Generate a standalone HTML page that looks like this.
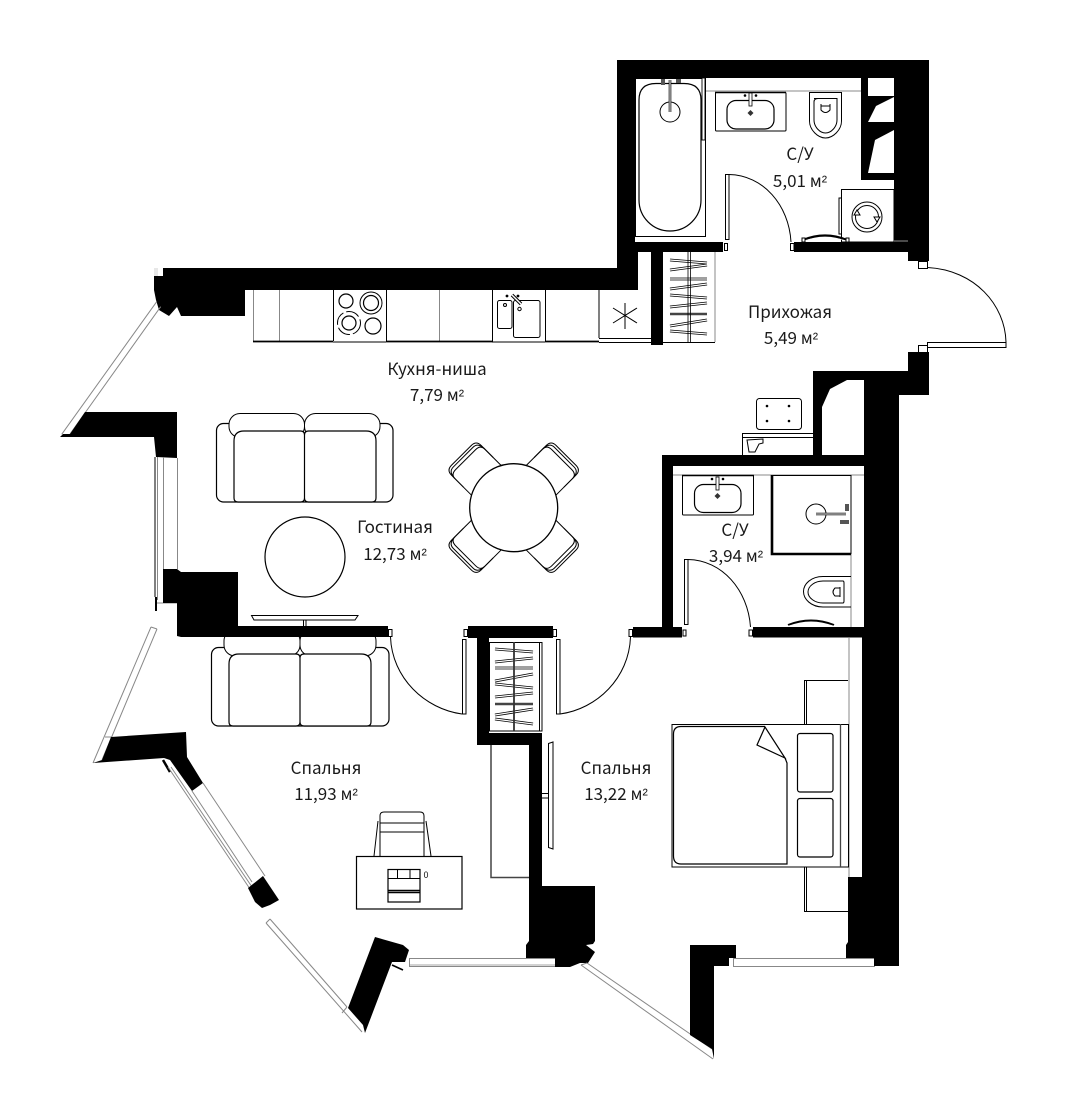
<!DOCTYPE html>
<html lang="ru">
<head>
<meta charset="utf-8">
<title>План квартиры</title>
<style>
html,body{margin:0;padding:0;background:#fff;width:1068px;height:1120px;overflow:hidden}
svg{display:block}
text{font-family:"Noto Sans CJK JP","Liberation Sans",sans-serif;font-size:17px;fill:#1a1a1a;text-anchor:middle}
text tspan{font-family:"Liberation Sans",sans-serif;font-size:16px}
.w{fill:#000;stroke:none}
.l{fill:none;stroke:#000;stroke-width:1}
.m{fill:none;stroke:#000;stroke-width:1.2}
.f{fill:#fff;stroke:#000;stroke-width:1}
.g{fill:none;stroke:#888;stroke-width:1}
.h{stroke:#000;stroke-width:2.8;fill:none}
.hi{stroke:#fff;stroke-width:1.2;fill:none}
</style>
</head>
<body>
<svg width="1068" height="1120" viewBox="0 0 1068 1120" xmlns="http://www.w3.org/2000/svg">
<rect width="1068" height="1120" fill="#fff"/>

<!-- kitchen counter -->
<g>
<path class="g" d="M253.500 290V341M279.500 290V341M439.500 290V341"/>
<path class="l" d="M333.500 290V341M386.500 290V341M492.500 290V342M545.500 290V342M599 290V338"/>
<path d="M253 341.500H333M386 341.500H492M545 341.500H599" stroke="#000" stroke-width="1.800" fill="none"/>
<path class="l" d="M333 342H386M492 342H545"/>
<path class="l" d="M599 338.500H651M599 342.500H651"/>
<circle class="m" cx="346" cy="301" r="7"/>
<circle class="l" cx="371" cy="303" r="11"/><circle class="m" cx="371" cy="303" r="7.500"/>
<circle class="l" cx="349" cy="323" r="11.500" stroke-dasharray="14 3"/><circle class="m" cx="349" cy="323" r="7"/>
<circle class="m" cx="373" cy="326" r="8"/>
<rect class="l" x="497.500" y="300.500" width="14.500" height="28" rx="2"/>
<rect class="l" x="513.500" y="300.500" width="26.500" height="37" rx="2"/>
<path d="M512 295L521 304" stroke="#000" stroke-width="3.400"/><path d="M512 295L521 304" stroke="#fff" stroke-width="1.400"/>
<circle cx="507" cy="296" r="1.400"/><circle cx="518" cy="296" r="1.400"/>
<circle class="l" cx="505" cy="305" r="1.500"/><circle class="l" cx="519.500" cy="309" r="1.700"/>
<path class="l" d="M625 303V329M613 308L637 323M613 323L637 308"/>
</g>

<!-- thin guide lines under the walls -->
<path class="g" d="M706 91H861"/>
<path class="g" d="M673 475H864M851 475V627M849 638V877"/>

<!-- walls: upper block -->
<g class="w">
<path d="M617 60H929V261H908V252H794V242H894V78H635V242H723V252H635V288H638V268H617z" fill-rule="nonzero"/>
<rect x="635" y="242" width="3" height="46"/>
<rect x="244" y="268" width="394" height="22"/>
<rect x="651" y="252" width="12" height="93"/>
<rect x="861" y="78" width="33" height="102"/>
<rect x="617" y="60" width="18" height="208"/>
</g>
<g fill="#fff">
<rect x="868" y="78" width="26" height="18"/>
<path d="M868 122L876 106L894 97V122z"/>
<path d="M868 173L875 140L894 130V173z"/>
<rect x="638" y="252" width="13" height="36"/>
</g>
<path d="M243.500 268V288" stroke="#ccc" stroke-width="0.800"/>

<!-- top-left corner -->
<path class="w" d="M154 276H163V268H245V316H181L177 307L169 316L159 310L156 300L154 290z"/>
<path d="M155 268V276M157 268V276" stroke="#bbb" stroke-width="0.700"/>
<path class="g" d="M156.700 301.700L61.700 434.300M160.700 306.700L70 434" stroke-width="0.900"/>
<path class="w" d="M85 412H177V458L156 457L154 437H60L63 434H70z"/>

<!-- west window -->
<path class="g" d="M163.500 457V569M177.500 458V569M157.500 457V600" stroke-width="0.900"/>
<path class="l" d="M155 457V597"/>
<rect x="155" y="597" width="2" height="14" fill="#000"/>
<path class="g" d="M157 603H177"/>

<!-- sofa 2 (behind wall) -->
<g>
<rect class="m" x="211.500" y="647.500" width="177.500" height="78.500" rx="7"/>
<rect class="f" stroke-width="1.100" x="224" y="630" width="76" height="26" rx="11"/>
<rect class="f" stroke-width="1.100" x="300" y="630" width="76" height="26" rx="11"/>
<path class="m" style="fill:#fff" d="M229 722V664Q229 654 239 654H296Q300 654 300 658V722Q300 726 296 726H233Q229 726 229 722zM300 722V658Q300 654 304 654H361Q371 654 371 664V722Q371 726 367 726H304Q300 726 300 722z"/>
</g>

<path class="w" d="M163 569H177L181 572H238V626H388V637H181L177 636V603H163z"/>

<!-- SW window 1 -->
<path class="g" d="M151 627L93 763M157 629L102 760M151 627L157 629M105 737L112 737" stroke-width="0.800"/>
<path class="w" d="M111 737L186 732L187 757L203 783L192 791L170 760L164 758L93 763L102 760z"/>
<path d="M163 760L170 772" stroke="#000" stroke-width="2.500"/>
<!-- SW window 2 -->
<path class="g" d="M168 767L250 889M171 767L252 887M192 791L252 882M203 783L265 876" stroke-width="0.900"/>
<path class="w" d="M263 876L279 900L270 905L262 908L255 902L248 888z"/>
<!-- SW window 3 -->
<path class="g" d="M266 923L362 1032M270 919L347 1007M266 923L270 919M347 1007L342 1013" stroke-width="0.900"/>
<path class="w" d="M375 937L403 945L409 950L405 962L392 962L365 1033L363 1025L348 1008z"/>
<path d="M392 965L403 970" stroke="#000" stroke-width="1.600"/>
<!-- south window 1 -->
<rect x="409.500" y="958.500" width="146" height="8" class="g" stroke-width="0.900"/>
<path d="M409 965H555" stroke="#888" stroke-width="0.800"/>
<!-- central block -->
<path class="w" d="M468 626H553V638H489V733H542V886H595V941L593 944L586 945L595 952L588 963L580 963L570 967H555V958H526V945L529 941V745H477V638H468z"/>
<path class="g" d="M587 963L712 1049M581 965L713 1059M581 965L587 963" stroke-width="0.900"/>
<path class="w" d="M690 945H736V958H729V966H714V1059L712 1049L690 1035z"/>
<rect x="733.500" y="958.500" width="141" height="8" class="g" stroke-width="0.900"/>

<!-- WC walls & shaft -->
<g class="w">
<rect x="662" y="455" width="202" height="11"/>
<rect x="662" y="455" width="11" height="182"/>
<rect x="633" y="627" width="49" height="10.500"/>
<rect x="753" y="627" width="111" height="10.500"/>
<path d="M908 352H929V395H899V966H874V958H846V945L848 942V877H862V637H864V380H847L830 389L822 407V460H813V371H908z"/>
</g>

<!-- entrance door -->
<path class="l" d="M927.500 267.500C975 270 1005 305 1006 342"/>
<rect class="f" x="927.500" y="342.500" width="78.500" height="5"/>
<rect class="f" x="918.500" y="261.500" width="9" height="7"/>
<rect class="f" x="918.500" y="345.500" width="9" height="7"/>

<!-- upper bathroom -->
<rect class="l" x="635.500" y="78.500" width="70" height="158"/>
<path class="m" d="M639 100Q639 83.500 656 83.500H684Q701 83.500 701 100V200A31 31 0 0 1 639 200z"/>
<circle class="l" cx="670" cy="112" r="10"/>
<path d="M670 80V112" stroke="#000" stroke-width="2.600"/><path d="M670 80V112" stroke="#fff" stroke-width="1"/>
<rect x="661" y="79" width="4" height="6" fill="#555"/><rect x="676" y="79" width="5" height="4" fill="#555"/>
<rect x="702" y="78" width="3" height="62" fill="#fff" stroke="#000" stroke-width="0.900"/>
<rect class="f" x="715.500" y="92.500" width="70.500" height="38.500" rx="1"/>
<path d="M715 92.500H786" stroke="#000" stroke-width="1.500"/>
<rect class="m" x="727" y="100.500" width="47" height="28.500" rx="9"/>
<rect x="749" y="93" width="3" height="13" fill="#fff" stroke="#000" stroke-width="0.800"/>
<circle cx="745" cy="95.500" r="1.300"/><circle cx="756" cy="95.500" r="1.300"/>
<path d="M750.500 110l3 3-3 3-3-3z" fill="#333"/>
<path class="l" d="M809.500 92.500H841.500V121C841.500 130 833 138 825.500 138C818 138 809.500 130 809.500 121z"/>
<path class="l" d="M814 98.500H837V120C837 127 831 133 825.500 133C820 133 814 127 814 120V102Q814 98.500 818 98.500z"/>
<path class="l" d="M821 104V110Q825.500 115 830 110V104M821 106H830"/>
<path class="f" d="M841.500 189.500H894V242H841.500z"/>
<rect class="f" x="839" y="198" width="2.500" height="36"/>
<circle class="l" cx="867" cy="217" r="15"/>
<circle class="l" cx="867" cy="217" r="11.500"/>
<path class="f" d="M854 215l3-5 3 5zM874 217l3 5 3-5z"/>
<rect class="f" x="725.500" y="174.500" width="3.500" height="65"/>
<path class="l" d="M729 174.500C763 175 789 205 791 242"/>
<rect class="f" x="724.500" y="243.500" width="3" height="7"/>
<rect class="f" x="790.500" y="243.500" width="3.500" height="7"/>
<path d="M803 240Q825 231 847 240" fill="none" stroke="#000" stroke-width="2.200"/>
<path d="M803 241Q825 234 847 241" fill="none" stroke="#fff" stroke-width="0.600"/>
<rect class="f" x="802" y="238" width="3" height="4"/><rect class="f" x="846" y="238" width="3" height="4"/>
<path d="M894 241H908" stroke="#bbb" stroke-width="0.800"/>

<!-- closet 1 -->
<path class="g" d="M715 252V342" stroke-width="1.500"/>
<path class="l" d="M663 342.500H715"/>
<g class="h"><path d="M670 260L707 263M670 270L707 265M670 279H707M670 289L707 284M670 295L707 298M670 307L707 303M670 326L707 320M670 331L707 334"/></g>
<g class="hi"><path d="M670 260L707 263M670 270L707 265M670 279H707M670 289L707 284M670 295L707 298M670 307L707 303M670 326L707 320M670 331L707 334"/></g>
<path d="M670 314H707" stroke="#444" stroke-width="2.600"/>
<path d="M688 252V342M690.500 252V342" stroke="#000" stroke-width="0.800"/>

<!-- furniture pad & kitchen cabinet -->
<rect class="l" x="756.500" y="398.500" width="45" height="31" rx="3"/>
<circle cx="767" cy="406" r="1.300"/><circle cx="789" cy="406" r="1.300"/><circle cx="767" cy="421" r="1.300"/><circle cx="789" cy="421" r="1.300"/>
<path class="l" d="M742.500 455V433.500H813M742.500 437.500H813"/>
<path class="l" d="M747 440L763 439L763 443L759 444L755 452L749 452z"/>

<!-- lower WC -->
<rect class="f" x="682.500" y="475.500" width="71" height="39.500" rx="1"/>
<path d="M682 475.500H754" stroke="#000" stroke-width="1.500"/>
<rect class="m" x="694.500" y="484.500" width="46.500" height="28" rx="9"/>
<rect x="716" y="477" width="3" height="13" fill="#fff" stroke="#000" stroke-width="0.800"/>
<circle cx="712" cy="479" r="1.300"/><circle cx="723" cy="479" r="1.300"/>
<path d="M717.500 493l3 3-3 3-3-3z" fill="#333"/>
<rect x="772" y="475.500" width="79" height="78" fill="#fff" stroke="#000" stroke-width="1"/>
<path d="M772 475V554H851" fill="none" stroke="#000" stroke-width="2.600"/>
<circle class="l" cx="816" cy="514" r="10"/>
<path d="M816 514H846" stroke="#000" stroke-width="2.600"/><path d="M816 514H846" stroke="#fff" stroke-width="1"/>
<rect x="845" y="504" width="4" height="7" fill="#555"/><rect x="840" y="520" width="9" height="4" fill="#555"/>
<path class="l" d="M851 576.500H823C811 576.500 803.500 584 803.500 591.500C803.500 599 811 607 823 607H851"/>
<path class="l" d="M843 581H823C815 581 808 586 808 592C808 598 815 603 823 603H843Q844 603 844 601V583Q844 581 843 581z"/>
<path class="l" d="M840 587V597M840 588H835Q831 592 835 596H840"/>
<rect class="f" x="684.500" y="559.500" width="3.500" height="65"/>
<path class="l" d="M688 559.500C722 560 748 590 750.500 627"/>
<rect class="f" x="683" y="630" width="3" height="6"/>
<rect class="f" x="749" y="630" width="3.500" height="6"/>
<path d="M788 625Q811 616 834 625" fill="none" stroke="#000" stroke-width="2"/>
<path d="M788 626Q811 619 834 626" fill="none" stroke="#fff" stroke-width="0.500"/>

<!-- sofa 1 -->
<g>
<rect class="m" x="216.500" y="423.500" width="176.500" height="78.500" rx="7"/>
<rect class="f" x="229" y="413.500" width="75.500" height="24" rx="11" stroke-width="1.100"/>
<rect class="f" x="304.500" y="413.500" width="75.500" height="24" rx="11" stroke-width="1.100"/>
<path class="m" style="fill:#fff" d="M234 498V441Q234 431 244 431H300.500Q304.500 431 304.500 435V498Q304.500 502 300.500 502H238Q234 502 234 498zM304.500 498V435Q304.500 431 308.500 431H366Q376 431 376 441V498Q376 502 372 502H308.500Q304.500 502 304.500 498z"/>
</g>
<circle class="m" cx="305" cy="557" r="40" style="fill:#fff"/>
<path class="l" d="M251.500 615.500H358L355 620H254z"/>
<path class="l" d="M303.500 620V626M306 620V626"/>

<!-- dining table -->
<g transform="translate(513.700 507.700)">
<g transform="rotate(-45)"><path class="l" d="M-21 -38V-67Q-21 -74 -14 -74H14Q21 -74 21 -67V-38"/><path class="l" d="M-21 -62Q-21 -71.500 -14 -71.500H14Q21 -71.500 21 -62"/><path class="l" d="M-21 -50V-62Q-21 -68 -14 -68H14Q21 -68 21 -62V-50"/></g>
<g transform="rotate(45)"><path class="l" d="M-21 -38V-67Q-21 -74 -14 -74H14Q21 -74 21 -67V-38"/><path class="l" d="M-21 -62Q-21 -71.500 -14 -71.500H14Q21 -71.500 21 -62"/><path class="l" d="M-21 -50V-62Q-21 -68 -14 -68H14Q21 -68 21 -62V-50"/></g>
<g transform="rotate(135)"><path class="l" d="M-21 -38V-67Q-21 -74 -14 -74H14Q21 -74 21 -67V-38"/><path class="l" d="M-21 -62Q-21 -71.500 -14 -71.500H14Q21 -71.500 21 -62"/><path class="l" d="M-21 -50V-62Q-21 -68 -14 -68H14Q21 -68 21 -62V-50"/></g>
<g transform="rotate(225)"><path class="l" d="M-21 -38V-67Q-21 -74 -14 -74H14Q21 -74 21 -67V-38"/><path class="l" d="M-21 -62Q-21 -71.500 -14 -71.500H14Q21 -71.500 21 -62"/><path class="l" d="M-21 -50V-62Q-21 -68 -14 -68H14Q21 -68 21 -62V-50"/></g>
<circle r="44" fill="#fff" stroke="#000" stroke-width="1.300"/>
</g>

<!-- doors into bedrooms -->
<rect class="f" x="462.500" y="639.500" width="3.500" height="74.500"/>
<path class="l" d="M462 714C425 709 392 678 390.500 637"/>
<rect class="f" x="388.500" y="629.500" width="3.500" height="7"/>
<rect class="f" x="464" y="629.500" width="3.500" height="7"/>
<rect class="f" x="556.500" y="639.500" width="3.500" height="74.500"/>
<path class="l" d="M560 714C597 709 629 678 630.500 637"/>
<rect class="f" x="553" y="629.500" width="3.500" height="7"/>
<rect class="f" x="629" y="629.500" width="3.500" height="7"/>

<!-- closet 2 -->
<rect class="l" x="489.500" y="642.500" width="52.500" height="88.500"/>
<path class="l" d="M539.500 642V731"/>
<g class="h"><path d="M495 649L533 652M495 662L533 658M495 668H533M495 681L533 674M495 684L533 688M495 697L533 693M495 715L533 709M495 719L533 724"/></g>
<g class="hi"><path d="M495 649L533 652M495 662L533 658M495 668H533M495 681L533 674M495 684L533 688M495 697L533 693M495 715L533 709M495 719L533 724"/></g>
<path d="M495 704H533" stroke="#444" stroke-width="2.600"/>
<path d="M514 642V731" stroke="#333" stroke-width="1.800"/>

<!-- wardrobe + TV -->
<path d="M491 745V877.500H529" fill="none" stroke="#444" stroke-width="1.500"/>
<path class="f" d="M548.500 743.500L553 742V849L548.500 847.500z"/>
<path class="l" d="M542 793.500H548M542 798H548"/>

<!-- bed -->
<path class="l" d="M848 680.500H804.500V724M806.500 680.500V724M848 911.500H804.500V867M806.500 911.500V867"/>
<rect class="f" x="672" y="724.500" width="176.500" height="142.500" stroke-width="1.200"/>
<path d="M840.500 724V867" stroke="#444" stroke-width="1.300"/>
<path class="m" d="M765 726.500H681Q673.500 726.500 673.500 734V856Q673.500 864 681 864H787V763L785 758"/>
<path class="m" style="fill:#fff" d="M765 727L757 745L785 758z"/>
<rect class="m" x="797.500" y="733.500" width="35.500" height="58.500" rx="2.500"/>
<rect class="m" x="797.500" y="798.500" width="35.500" height="58.500" rx="2.500"/>

<!-- desk -->
<path class="l" d="M378 821L374 856M426 821L431 856M380 856V816Q380 812 384 812H420Q424 812 424 816V856M380 823H424M380 832H424"/>
<rect class="m" x="356.500" y="856.500" width="105.500" height="52.500" style="fill:#fff"/>
<rect class="m" x="388" y="869.500" width="32" height="32.500"/>
<path class="l" d="M397.500 869.500V878.500M410 869.500V878.500M388 878.500H420"/>
<path d="M388 890.500H420M388 892.500H420" stroke="#000" stroke-width="1.400"/>
<text x="426" y="878" style="font-size:9px">0</text>

<!-- labels -->
<text x="800" y="160">С/У</text>
<text x="800" y="187">5,01 м<tspan>²</tspan></text>
<text x="790" y="318">Прихожая</text>
<text x="791" y="344">5,49 м<tspan>²</tspan></text>
<text x="437" y="375">Кухня-ниша</text>
<text x="437" y="401">7,79 м<tspan>²</tspan></text>
<text x="395" y="533">Гостиная</text>
<text x="395" y="560">12,73 м<tspan>²</tspan></text>
<text x="735" y="536">С/У</text>
<text x="736" y="562">3,94 м<tspan>²</tspan></text>
<text x="326" y="774">Спальня</text>
<text x="326" y="800">11,93 м<tspan>²</tspan></text>
<text x="616" y="774">Спальня</text>
<text x="616" y="800">13,22 м<tspan>²</tspan></text>
</svg>
</body>
</html>
